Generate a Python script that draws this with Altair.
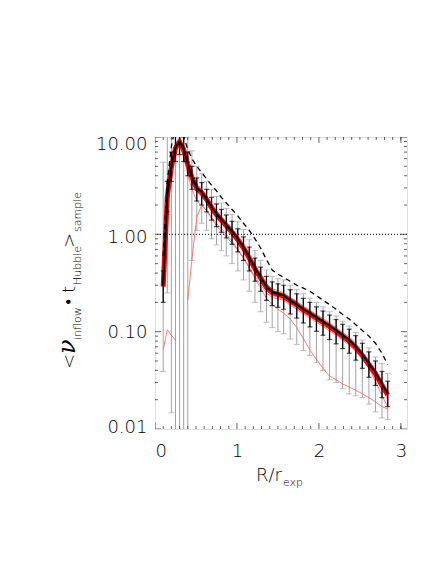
import altair as alt
import pandas as pd

# ---------------- data ----------------
x_vals = [0.10,0.15,0.20,0.25,0.30,0.35,0.40,0.45,0.51,0.57,0.63,0.69,0.75,0.81,0.87,
          0.94,1.01,1.08,1.15,1.22,1.29,1.36,1.43,1.50,1.57,1.65,1.73,1.81,1.89,1.97,
          2.05,2.13,2.21,2.29,2.37,2.45,2.53,2.61,2.69,2.77,2.84]
mean_vals = [0.30,2.5,5.0,7.8,9.0,7.5,5.3,3.9,3.0,2.7,2.3,1.9,1.62,1.42,1.25,
             1.07,0.90,0.74,0.58,0.45,0.36,0.29,0.255,0.245,0.235,0.21,0.19,0.17,0.155,0.14,
             0.127,0.115,0.103,0.092,0.082,0.070,0.058,0.047,0.038,0.029,0.023]
black_lo = [0.20,1.7,3.5,5.6,6.6,5.6,4.0,2.9,2.2,2.0,1.7,1.4,1.2,1.05,0.92,
            0.79,0.66,0.54,0.42,0.33,0.26,0.21,0.185,0.178,0.17,0.152,0.138,0.123,0.112,0.101,
            0.092,0.083,0.075,0.067,0.06,0.051,0.042,0.034,0.028,0.021,0.017]
black_hi = [0.42,3.5,7.0,10.5,12.0,10.0,7.0,5.0,3.8,3.4,2.9,2.4,2.05,1.8,1.58,
            1.36,1.14,0.94,0.74,0.57,0.46,0.37,0.325,0.31,0.30,0.27,0.245,0.22,0.20,0.18,
            0.163,0.148,0.133,0.119,0.106,0.091,0.076,0.062,0.050,0.039,0.031]
gray_lo = [0.039,0.25,0.0147,0.001,0.001,0.001,0.001,0.54,1.1,1.3,1.1,0.9,0.78,0.68,0.6,
           0.5,0.42,0.34,0.26,0.2,0.16,0.125,0.11,0.1,0.095,0.084,0.074,0.064,0.057,0.048,
           0.04,0.032,0.03,0.026,0.023,0.022,0.021,0.018,0.015,0.013,0.0125]
gray_hi = [5.5,30,30,30,30,30,12,7.2,5.0,4.2,3.5,2.9,2.45,2.1,1.85,
           1.6,1.35,1.12,0.88,0.68,0.54,0.43,0.37,0.35,0.34,0.30,0.27,0.245,0.22,0.20,
           0.18,0.16,0.145,0.128,0.114,0.098,0.082,0.068,0.055,0.047,0.037]
median_vals = [0.29,2.45,4.9,7.7,8.9,7.4,5.25,3.85,2.95,2.68,2.28,1.88,1.6,1.4,1.23,
               1.05,0.88,0.72,0.57,0.44,0.355,0.285,0.252,0.242,0.232,0.208,0.188,0.168,0.153,0.138,
               0.125,0.113,0.101,0.09,0.08,0.069,0.057,0.046,0.037,0.028,0.0225]
upper_dashed = [0.6,3.5,8,13,15,10,7.5,6.0,5.0,4.3,3.7,3.2,2.8,2.4,2.1,
                1.8,1.55,1.3,1.1,0.9,0.72,0.55,0.43,0.39,0.36,0.33,0.30,0.28,0.26,0.235,
                0.21,0.19,0.17,0.15,0.135,0.118,0.103,0.09,0.076,0.06,0.046]
red_1 = [0.33,2.8,5.6,8.6,9.8,8.0,5.7,4.2,3.25,2.9,2.45,2.05,1.75,1.53,1.34,
         1.15,0.97,0.8,0.63,0.49,0.39,0.31,0.275,0.265,0.25,0.225,0.205,0.183,0.166,0.15,
         0.136,0.123,0.11,0.098,0.088,0.075,0.062,0.05,0.04,0.031,0.025]
red_2 = [0.27,2.2,4.5,7.0,8.3,6.8,4.8,3.5,2.7,2.45,2.1,1.72,1.47,1.29,1.13,
         0.97,0.82,0.67,0.53,0.41,0.33,0.265,0.235,0.225,0.215,0.193,0.175,0.157,0.143,0.129,
         0.117,0.106,0.095,0.085,0.076,0.065,0.054,0.044,0.036,0.027,0.021]
red_3 = [0.28,2.3,4.7,7.3,8.5,6.3,4.1,2.9,2.2,2.0,1.75,1.45,1.22,1.07,0.94,
         0.81,0.69,0.57,0.46,0.37,0.3,0.25,0.225,0.218,0.21,0.187,0.17,0.152,0.138,0.125,
         0.113,0.102,0.092,0.082,0.073,0.062,0.052,0.042,0.034,0.026,0.02]
red_4 = [0.32,2.7,5.4,8.3,9.5,7.9,5.6,4.1,3.15,2.8,2.4,1.98,1.68,1.47,1.3,
         1.11,0.93,0.77,0.6,0.47,0.37,0.3,0.265,0.255,0.245,0.22,0.198,0.177,0.16,0.145,
         0.131,0.118,0.106,0.095,0.084,0.071,0.056,0.042,0.031,0.022,0.017]
red_low = [0.065,0.105,0.092,0.082,None,None,0.21,0.55,1.5,2.0,1.75,1.5,1.3,1.15,1.0,
           0.85,0.7,0.57,0.45,0.35,0.28,0.22,0.19,0.17,0.155,0.135,0.11,0.085,0.065,0.052,
           0.042,0.035,0.032,0.029,0.027,0.025,0.023,0.021,0.019,0.017,0.016]

x_major = [0, 1, 2, 3]
x_minor = [0.1,0.2,0.3,0.4,0.5,0.6,0.7,0.8,0.9,1.1,1.2,1.3,1.4,1.5,1.6,1.7,1.8,1.9,
           2.1,2.2,2.3,2.4,2.5,2.6,2.7,2.8,2.9,3.0]
y_major = [0.01, 0.1, 1, 10]
y_minor = [0.02,0.03,0.04,0.05,0.06,0.07,0.08,0.09,0.2,0.3,0.4,0.5,0.6,0.7,0.8,0.9,
           2,3,4,5,6,7,8,9]

# ---------------- tables ----------------
main = pd.DataFrame({"x": x_vals, "mean": mean_vals, "blo": black_lo, "bhi": black_hi,
                     "glo": gray_lo, "ghi": gray_hi, "med": median_vals, "dash": upper_dashed})

rows = []
for name, arr in [("r1", red_1), ("r2", red_2), ("r3", red_3), ("r4", red_4)]:
    for xv, yv in zip(x_vals, arr):
        rows.append({"x": xv, "y": yv, "c": name})
seg = 0
prev_none = False
for xv, yv in zip(x_vals, red_low):
    if yv is None:
        if not prev_none:
            seg += 1
        prev_none = True
        continue
    prev_none = False
    rows.append({"x": xv, "y": yv, "c": "low%d" % seg})
reds = pd.DataFrame(rows)

xt = pd.DataFrame({"v": x_major + x_minor, "len": [12] * len(x_major) + [6] * len(x_minor)})
yt = pd.DataFrame({"v": y_major + y_minor, "len": [12] * len(y_major) + [6] * len(y_minor)})

W, H = 252, 292
FONT = "DejaVu Sans"
TXT = "black"
xs = alt.Scale(domain=[0, 3.075], nice=False, zero=False)
ys = alt.Scale(type="log", domain=[0.01, 10], nice=False)

x_axis = alt.Axis(values=x_major, format="d", ticks=False, domain=False, grid=False,
                  labelFont=FONT, labelFontSize=18, labelFontWeight=300, labelPadding=13,
                  labelColor=TXT, title=None)
y_axis = alt.Axis(values=y_major, format=".2f", ticks=False, domain=False, grid=False,
                  labelFont=FONT, labelFontSize=18, labelFontWeight=300, labelPadding=8,
                  labelColor=TXT, labelBaseline="middle", title=None,
                  labelOffset={"condition": [{"test": "datum.value >= 5", "value": 7},
                                             {"test": "datum.value >= 0.5", "value": 3},
                                             {"test": "datum.value < 0.05", "value": -2}],
                               "value": 1})

def X(f="x"):
    return alt.X(f + ":Q", scale=xs, axis=x_axis)

def Y(f):
    return alt.Y(f + ":Q", scale=ys, axis=y_axis)

base = alt.Chart(main)

GRAY = "#a3a3a3"
gray_bars = base.mark_rule(color=GRAY, strokeWidth=1, clip=True).encode(
    x=X(), y=Y("glo"), y2="ghi:Q")
gray_cap_lo = base.mark_tick(color=GRAY, orient="horizontal", size=6, thickness=1,
                             clip=True).encode(x=X(), y=Y("glo"))
gray_cap_hi = base.mark_tick(color=GRAY, orient="horizontal", size=6, thickness=1,
                             clip=True).encode(x=X(), y=Y("ghi"))

red_thin = alt.Chart(reds).mark_line(color="#ff5a5a", strokeWidth=0.8, clip=True).encode(
    x=X(), y=Y("y"), detail="c:N")
red_thick = base.mark_line(color="#ff0000", strokeWidth=5, clip=True).encode(
    x=X(), y=Y("med"))

black_bars = base.mark_rule(color="black", strokeWidth=1.3, clip=True).encode(
    x=X(), y=Y("blo"), y2="bhi:Q")
black_cap_lo = base.mark_tick(color="black", orient="horizontal", size=5, thickness=1.2,
                              clip=True).encode(x=X(), y=Y("blo"))
black_cap_hi = base.mark_tick(color="black", orient="horizontal", size=5, thickness=1.2,
                              clip=True).encode(x=X(), y=Y("bhi"))
black_line = base.mark_line(color="black", strokeWidth=2, clip=True).encode(
    x=X(), y=Y("mean"))
dashed = base.mark_line(color="black", strokeWidth=1.3, strokeDash=[5, 4], clip=True).encode(
    x=X(), y=Y("dash"))
dotted = alt.Chart(pd.DataFrame({"v": [1.0]})).mark_rule(
    color="black", strokeWidth=1, strokeDash=[1, 2]).encode(y=Y("v"))

tick_color = "#222"
xt_bottom = alt.Chart(xt).mark_tick(color=tick_color, orient="vertical", thickness=1,
                                    clip=True).encode(
    x=X("v"), y=alt.value(H), size=alt.Size("len:Q", scale=None, legend=None))
xt_top = alt.Chart(xt).mark_tick(color=tick_color, orient="vertical", thickness=1,
                                 clip=True).encode(
    x=X("v"), y=alt.value(0), size=alt.Size("len:Q", scale=None, legend=None))
yt_left = alt.Chart(yt).mark_tick(color=tick_color, orient="horizontal", thickness=1,
                                  clip=True).encode(
    y=Y("v"), x=alt.value(0), size=alt.Size("len:Q", scale=None, legend=None))
yt_right = alt.Chart(yt).mark_tick(color=tick_color, orient="horizontal", thickness=1,
                                   clip=True).encode(
    y=Y("v"), x=alt.value(W), size=alt.Size("len:Q", scale=None, legend=None))

# ---------------- axis titles with sub-scripts ----------------
one = pd.DataFrame({"a": [0]})

def txt(s, x, y, size, angle=0, style="normal", family=FONT, weight=300):
    kw = dict(text=s, font=family, fontSize=size, fontStyle=style, color=TXT,
              align="left", baseline="alphabetic", fontWeight=weight)
    if angle:
        kw["angle"] = angle
    return alt.Chart(one).mark_text(**kw).encode(x=alt.value(x), y=alt.value(y))

MAINX, SUBX = -80, -74
titles = [
    txt("<", MAINX, 232, 18, 270),
    txt("\u03bd", MAINX, 217, 24, 270, "italic", "DejaVu Serif"),
    txt("inflow", SUBX, 203, 11, 270),
    txt("\u2022", MAINX, 168, 18, 270),
    txt("t", MAINX, 156, 18, 270),
    txt("Hubble", SUBX, 148, 11, 270),
    txt(">", MAINX, 111, 18, 270),
    txt("sample", SUBX, 95, 11, 270),
    txt("R/r", 101, 344, 18),
    txt("exp", 128, 349, 11),
]

chart = alt.layer(
    gray_bars, gray_cap_lo, gray_cap_hi,
    red_thin, red_thick,
    black_bars, black_cap_lo, black_cap_hi, black_line,
    dashed, dotted,
    xt_bottom, xt_top, yt_left, yt_right,
    *titles,
).properties(
    width=W, height=H,
    autosize=alt.AutoSizeParams(type="none"),
    padding={"left": 147, "top": 129, "right": 20, "bottom": 120},
).configure_view(stroke="#222", strokeWidth=1).configure(font=FONT)

chart.save("out.html", embed_options={"renderer": "svg", "actions": False})
